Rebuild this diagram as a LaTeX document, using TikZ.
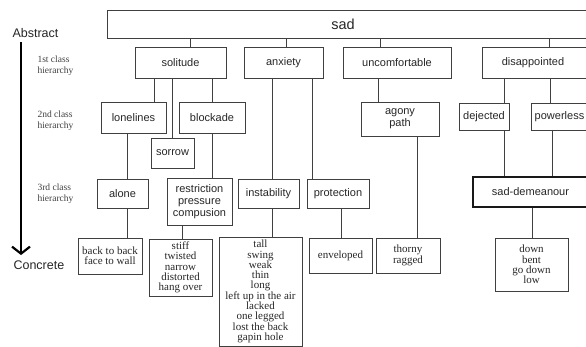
\documentclass[tikz,border=0pt]{standalone}
\usepackage{fontspec}
\setmainfont{Liberation Serif}
\setsansfont{Liberation Sans}
\usetikzlibrary{arrows.meta}

\begin{document}
\begin{tikzpicture}[
    x=1pt,
    y=-1pt,
    every node/.style={text=black!85},
    sz/.style 2 args={minimum width=#1pt, minimum height=#2pt},
    box/.style={draw=black!75, line width=0.9pt, inner sep=1pt, align=center,
      font=\sffamily\fontsize{11}{12}\selectfont},
    leaf/.style={draw=black!75, line width=0.9pt, inner sep=1pt, align=center,
      font=\fontsize{11}{10.3}\selectfont},
    strong/.style={line width=2.2pt, draw=black!90},
    level/.style={anchor=west, align=left, text=black!75,
      font=\fontsize{9.5}{11}\selectfont},
    side/.style={anchor=west, font=\sffamily\fontsize{12.5}{14}\selectfont},
    link/.style={draw=black!75, line width=0.9pt},
    axis/.style={line width=2.2pt, -{Straight Barb[length=7pt,width=18pt]}}
  ]
    \useasboundingbox (0,0) rectangle (586,347);
    \clip (0,0) rectangle (586,347);

    \node[side] (abstract) at (9,33) {Abstract};
    \node[side] (concrete) at (10,265) {Concrete};
    \node[level] (first) at (34,65.5) {1st class\\hierarchy};
    \node[level] (second) at (34,120.5) {2nd class\\hierarchy};
    \node[level] (third) at (34,193.5) {3rd class\\hierarchy};
    \draw[axis, shorten <=1pt, shorten >=2pt] (abstract.south -| 21,0) -- (concrete.north -| 21,0);

    \node[box, sz={493}{28}] (sad) at (353.5,24) {\fontsize{14.5}{16}\selectfont sad\hspace*{21pt}};

    \node[box, sz={91}{31}] (solitude) at (180.5,62.5) {solitude};
    \node[box, sz={79}{31}] (anxiety) at (283.5,62.5) {anxiety};
    \node[box, sz={108}{31}] (uncomfortable) at (397,62.5) {uncomfortable};
    \node[box, sz={106}{31}] (disappointed) at (535,62.5) {disappointed\hspace*{4pt}};

    \node[box, sz={65}{31}] (lonelines) at (133.5,117.5) {lonelines};
    \node[box, sz={66}{31}] (blockade) at (212,117.5) {blockade};
    \node[box, sz={43}{30}] (sorrow) at (172.5,153) {sorrow};
    \node[box, sz={78}{34}] (agony) at (400,119) {agony\\path};
    \node[box, sz={50}{27}] (dejected) at (484,116.5) {dejected};
    \node[box, sz={57}{27}] (powerless) at (559.5,116.5) {powerless};

    \node[box, sz={51}{29}] (alone) at (122.5,193.5) {alone};
    \node[box, sz={65}{47}] (restriction) at (199.5,201.5) {restriction\\pressure\\compusion};
    \node[box, sz={61}{29}] (instability) at (268.5,193.5) {instability};
    \node[box, sz={62}{29}] (protection) at (338,193.5) {protection};
    \node[box, strong, sz={115}{30}] (demeanour) at (530.5,192) {sad-demeanour};

    \node[leaf, sz={64}{36}] (backtoback) at (110,256) {back to back\\face to wall};
    \node[leaf, sz={63}{57}] (stiff) at (180.5,267.5) {stiff\\twisted\\narrow\\distorted\\hang over};
    \node[leaf, sz={83}{109}] (tall) at (260.5,291.5) {tall\\swing\\weak\\thin\\long\\left up in the air\\lacked\\one legged\\lost the back\\gapin hole};
    \node[leaf, sz={63}{35}] (enveloped) at (340.5,255.5) {enveloped};
    \node[leaf, sz={64}{35}] (thorny) at (408,255.5) {thorny\\ragged};
    \node[leaf, sz={73}{53}] (down) at (531.5,264.5) {down\\bent\\go down\\low};

    \foreach \a/\b/\x in {sad/solitude/190, sad/anxiety/286, sad/uncomfortable/380,
        sad/disappointed/549, solitude/lonelines/154, solitude/sorrow/172,
        solitude/blockade/212, anxiety/instability/272, anxiety/protection/312,
        uncomfortable/agony/378, disappointed/dejected/504, disappointed/powerless/550,
        lonelines/alone/127, blockade/restriction/212, dejected/demeanour/504,
        powerless/demeanour/552, alone/backtoback/127, restriction/stiff/182,
        instability/tall/272, protection/enveloped/341, agony/thorny/417,
        demeanour/down/532}
      \draw[link] (\a.south -| \x,0) -- (\b.north -| \x,0);
\end{tikzpicture}
\end{document}
